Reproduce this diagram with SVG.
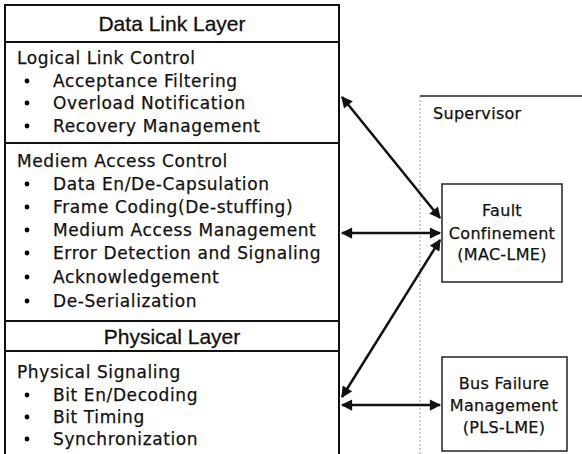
<svg xmlns="http://www.w3.org/2000/svg" width="582" height="454" viewBox="0 0 582 454">
<style>
.t{font-family:"DejaVu Sans","Liberation Sans",sans-serif;font-size:17px;letter-spacing:0.6px;fill:#111;stroke:#111;stroke-width:0.25}
.s{font-size:16px;letter-spacing:0.3px}
.h{font-family:"Liberation Sans",Arial,sans-serif;font-size:21px;fill:#111;stroke:#111;stroke-width:0.3;text-anchor:middle}
.c{text-anchor:middle}
.box{fill:none;stroke:#111;stroke-width:2}
.sub{fill:#fff;stroke:#222;stroke-width:1.5}
.con{stroke:#111;stroke-width:2.5;fill:none;marker-start:url(#ah);marker-end:url(#ah)}
</style>
<defs>
<marker id="ah" viewBox="0 0 10 10" refX="9" refY="5" markerWidth="5" markerHeight="4.5" orient="auto-start-reverse" markerUnits="strokeWidth">
<path d="M0,0 L10,5 L0,10 z" fill="#111"/>
</marker>
</defs>
<rect width="582" height="454" fill="#fff"/>
<g id="data-link-layer">
<path class="box" d="M5,454 V5 H339 V454"/>
<line class="box" x1="5" y1="42" x2="339" y2="42"/>
<text class="h" x="172" y="31">Data Link Layer</text>
</g>
<g id="llc">
<line class="box" x1="5" y1="143" x2="339" y2="143"/>
<text class="t" x="17" y="64">Logical Link Control</text>
<circle cx="27" cy="81" r="2.4"/><text class="t" x="53" y="87">Acceptance Filtering</text>
<circle cx="27" cy="103" r="2.4"/><text class="t" x="53" y="109">Overload Notification</text>
<circle cx="27" cy="126" r="2.4"/><text class="t" x="53" y="132">Recovery Management</text>
</g>
<g id="mac">
<text class="t" x="17" y="167">Mediem Access Control</text>
<circle cx="27" cy="184" r="2.4"/><text class="t" x="53" y="190">Data En/De-Capsulation</text>
<circle cx="27" cy="207" r="2.4"/><text class="t" x="53" y="213">Frame Coding(De-stuffing)</text>
<circle cx="27" cy="230" r="2.4"/><text class="t" x="53" y="236">Medium Access Management</text>
<circle cx="27" cy="253" r="2.4"/><text class="t" x="53" y="259">Error Detection and Signaling</text>
<circle cx="27" cy="277" r="2.4"/><text class="t" x="53" y="283">Acknowledgement</text>
<circle cx="27" cy="301" r="2.4"/><text class="t" x="53" y="307">De-Serialization</text>
</g>
<g id="physical-layer">
<line class="box" x1="5" y1="321" x2="339" y2="321"/>
<line class="box" x1="5" y1="351" x2="339" y2="351"/>
<text class="h" x="172" y="344">Physical Layer</text>
<text class="t" x="17" y="378">Physical Signaling</text>
<circle cx="27" cy="395" r="2.4"/><text class="t" x="53" y="401">Bit En/Decoding</text>
<circle cx="27" cy="417" r="2.4"/><text class="t" x="53" y="423">Bit Timing</text>
<circle cx="27" cy="439" r="2.4"/><text class="t" x="53" y="445">Synchronization</text>
</g>
<g id="supervisor">
<line x1="420" y1="96" x2="582" y2="96" stroke="#222" stroke-width="1.5"/>
<line x1="420" y1="96" x2="420" y2="454" stroke="#999" stroke-width="1" stroke-dasharray="2,2"/>
<text class="t s" x="433" y="119">Supervisor</text>
</g>
<g id="fault-confinement">
<rect class="sub" x="442" y="184" width="120" height="98"/>
<text class="t s c" x="502" y="216">Fault</text>
<text class="t s c" x="502" y="239">Confinement</text>
<text class="t s c" x="502" y="260">(MAC-LME)</text>
</g>
<g id="bus-failure">
<rect class="sub" x="442" y="357" width="125" height="94"/>
<text class="t s c" x="504" y="389">Bus Failure</text>
<text class="t s c" x="504" y="411">Management</text>
<text class="t s c" x="504" y="433">(PLS-LME)</text>
</g>
<g id="connectors">
<line class="con" x1="342" y1="97" x2="440" y2="218"/>
<line class="con" x1="342" y1="233" x2="440" y2="233"/>
<line class="con" x1="440" y1="240" x2="342" y2="397"/>
<line class="con" x1="342" y1="405" x2="440" y2="405"/>
</g>
</svg>
